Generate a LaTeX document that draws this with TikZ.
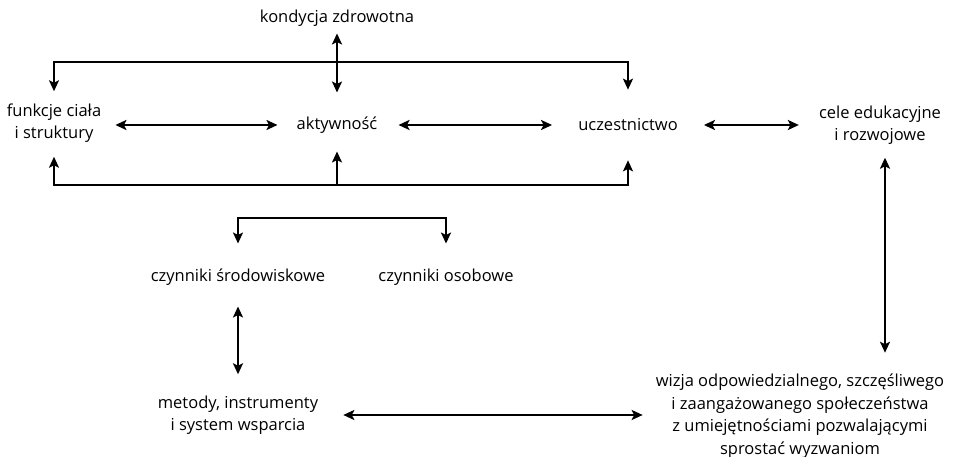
\documentclass[tikz,border=0pt]{standalone}
\usepackage{fontspec}
\setmainfont{Open Sans}
\usetikzlibrary{arrows.meta,calc}
\tikzset{
  lbl/.style={inner sep=0pt,align=center,font=\fontsize{16.5}{22.5}\selectfont},
  con/.style={line width=2.4pt,{Stealth[length=11pt,width=10pt,inset=2.5pt]}-{Stealth[length=11pt,width=10pt,inset=2.5pt]}},
  one/.style={line width=2.4pt,-{Stealth[length=11pt,width=10pt,inset=2.5pt]}}
}
\begin{document}
\begin{tikzpicture}[x=1pt,y=-1pt]
  \useasboundingbox(0,0)rectangle(956,457);
  % nodes
  \node[lbl](kond) at (337,18){kondycja zdrowotna};
  \node[lbl](funk) at (54,123){funkcje ciała\\i struktury};
  \node[lbl](akt) at (337,125){aktywność};
  \node[lbl](ucz) at (628,125){uczestnictwo};
  \node[lbl](cele) at (880,125){cele edukacyjne\\i rozwojowe};
  \node[lbl](srod) at (238,277){czynniki środowiskowe};
  \node[lbl](osob) at (446,277){czynniki osobowe};
  \node[lbl](met) at (238,415){metody, instrumenty\\i system wsparcia};
  \node[lbl](wiz) at (800,416){wizja odpowiedzialnego, szczęśliwego\\i zaangażowanego społeczeństwa\\z umiejętnościami pozwalającymi\\sprostać wyzwaniom};
  \coordinate(top) at (337,62);
  \coordinate(bot) at (337,185);
  \coordinate(fork) at (342,218);
  % upper frame
  \draw[con,shorten <=12pt,shorten >=29pt](funk.north)|-(top)-|(ucz.north);
  \draw[con,shorten <=7pt,shorten >=24pt](kond.south)--(kond.south|-akt.north);
  \draw[one,shorten >=14pt](bot)-|(funk.south);
  \draw[one,shorten >=18pt](bot)--(akt.south);
  \draw[one,shorten >=29pt](bot)-|(ucz.south);
  % horizontal links
  \draw[con,shorten <=14pt,shorten >=19pt](funk.east|-akt)--(akt.west);
  \draw[con,shorten <=21pt,shorten >=26pt](akt.east)--(akt.east-|ucz.west);
  \draw[con,shorten <=26pt,shorten >=20pt](ucz.east)--(cele.west|-ucz);
  % factors
  \draw[con,shorten <=25pt,shorten >=25pt](srod.north)|-(fork)-|(osob.north);
  \draw[con,shorten <=21pt,shorten >=21pt](srod.south)--(met.north);
  \draw[con,shorten <=25pt,shorten >=13pt](met.east)--(met-|wiz.west);
  \draw[con,shorten <=13pt,shorten >=21pt]([xshift=5pt]cele.south)--([xshift=5pt]cele.south|-wiz.north);
\end{tikzpicture}
\end{document}
